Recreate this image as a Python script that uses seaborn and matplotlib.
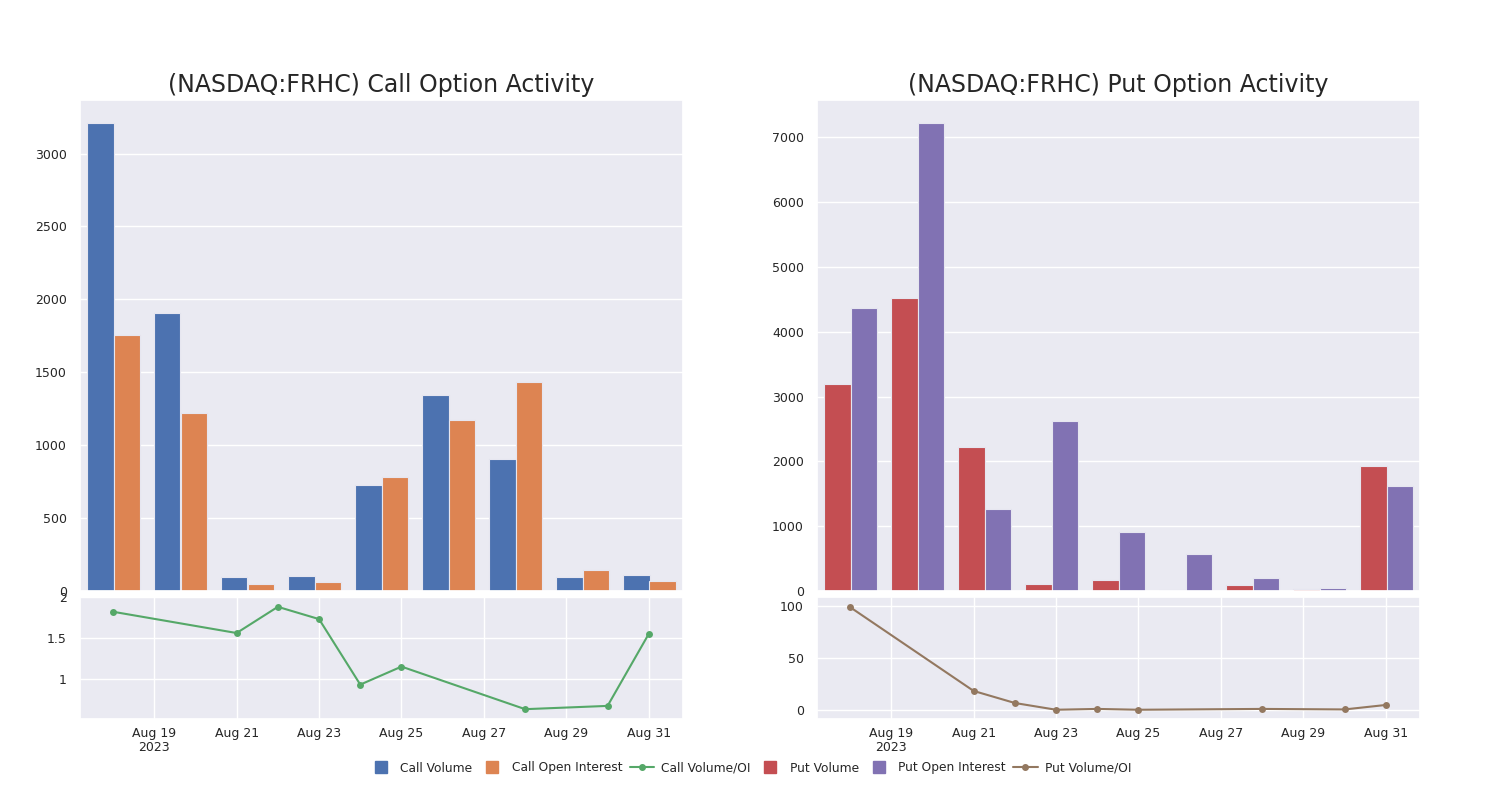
import matplotlib
matplotlib.use("Agg")
import matplotlib.pyplot as plt
import matplotlib.dates as mdates
from matplotlib.lines import Line2D
from matplotlib.ticker import FuncFormatter
import seaborn as sns
import pandas as pd

sns.set_theme(style="darkgrid")

dates = ["2023-08-18", "2023-08-21", "2023-08-22", "2023-08-23", "2023-08-24",
         "2023-08-25", "2023-08-28", "2023-08-30", "2023-08-31"]
call_volume = [3207, 1906, 96, 103, 729, 1342, 908, 96, 110]
call_oi = [1755, 1218, 51, 60, 784, 1170, 1431, 144, 69]
call_ratio = [1.82, 1.56, 1.88, 1.73, 0.93, 1.15, 0.63, 0.67, 1.55]
put_volume = [3190, 4522, 2215, 108, 170, 10, 93, 31, 1936]
put_oi = [4367, 7217, 1270, 2617, 914, 573, 201, 46, 1626]
put_ratio = [99, 18.3, 6.7, 0.2, 1.0, 0.2, 1.0, 0.5, 4.8]
date_ticks = ["2023-08-19", "2023-08-21", "2023-08-23", "2023-08-25",
              "2023-08-27", "2023-08-29", "2023-08-31"]
date_tick_labels = ["Aug 19\n2023", "Aug 21", "Aug 23", "Aug 25", "Aug 27", "Aug 29", "Aug 31"]

c_blue, c_orange, c_green = "#4C72B0", "#DD8452", "#55A868"
c_red, c_purple, c_brown = "#C44E52", "#8172B3", "#937860"

fig = plt.figure(figsize=(15, 8), dpi=100)
W, H = 1500, 800


def ax_at(x0, y0, x1, y1):
    return fig.add_axes([x0 / W, (H - y1) / H, (x1 - x0) / W, (y1 - y0) / H])


def bars(ax, vol, oi, names, colors, title):
    df = pd.DataFrame({
        "date": dates * 2,
        "value": vol + oi,
        "series": [names[0]] * len(dates) + [names[1]] * len(dates),
    })
    sns.barplot(data=df, x="date", y="value", hue="series", order=dates,
                hue_order=names, palette=colors, ax=ax, width=0.8,
                edgecolor="#e6e6f0", linewidth=0.8, saturation=1)
    ax.get_legend().remove()
    ax.set_xlabel("")
    ax.set_ylabel("")
    ax.set_xticks([0, 2, 4, 6, 8])
    ax.set_xticklabels([])
    ax.set_xlim(-0.5, 8.5)
    ax.set_title(title, fontsize=17, pad=6)
    ax.tick_params(axis="y", labelsize=9)


def line(ax, ratio, color, ylim, yticks):
    df = pd.DataFrame({"date": pd.to_datetime(dates), "ratio": ratio})
    sns.lineplot(data=df, x="date", y="ratio", ax=ax, color=color, marker="o",
                 markersize=5, markeredgewidth=0, linewidth=1.5)
    ax.set_xlabel("")
    ax.set_ylabel("")
    ax.set_xticks(pd.to_datetime(date_ticks))
    ax.set_xticklabels(date_tick_labels, linespacing=1.05)
    ax.set_xlim(mdates.date2num(pd.Timestamp("2023-08-18")) - 0.8,
                mdates.date2num(pd.Timestamp("2023-08-31")) + 0.83)
    ax.set_ylim(*ylim)
    ax.set_yticks(yticks)
    ax.yaxis.set_major_formatter(FuncFormatter(lambda v, p: f"{v:g}"))
    ax.tick_params(axis="both", labelsize=9)
    ax.tick_params(axis="x", pad=0)


ax1 = ax_at(80, 100, 683, 591)
ax2 = ax_at(80, 597, 683, 719)
ax3 = ax_at(817, 100, 1420, 591)
ax4 = ax_at(817, 597, 1420, 719)

bars(ax1, call_volume, call_oi, ["Call Volume", "Call Open Interest"],
     [c_blue, c_orange], "(NASDAQ:FRHC) Call Option Activity")
bars(ax3, put_volume, put_oi, ["Put Volume", "Put Open Interest"],
     [c_red, c_purple], "(NASDAQ:FRHC) Put Option Activity")
line(ax2, call_ratio, c_green, (0.51, 2.0), [1, 1.5, 2])
line(ax4, put_ratio, c_brown, (-8.7, 108.7), [0, 50, 100])

handles = [
    Line2D([], [], marker="s", linestyle="none", color=c_blue, markersize=8),
    Line2D([], [], marker="s", linestyle="none", color=c_orange, markersize=8),
    Line2D([], [], marker="o", color=c_green, markersize=4, linewidth=1.5),
    Line2D([], [], marker="s", linestyle="none", color=c_red, markersize=8),
    Line2D([], [], marker="s", linestyle="none", color=c_purple, markersize=8),
    Line2D([], [], marker="o", color=c_brown, markersize=4, linewidth=1.5),
]
labels = ["Call Volume", "Call Open Interest", "Call Volume/OI",
          "Put Volume", "Put Open Interest", "Put Volume/OI"]
fig.legend(handles, labels, loc="center", bbox_to_anchor=(0.5, (H - 768) / H),
           ncol=6, frameon=False, fontsize=8.8, handlelength=2.0,
           handletextpad=0.6, columnspacing=0.6)

fig.savefig("out.png", dpi=100)
